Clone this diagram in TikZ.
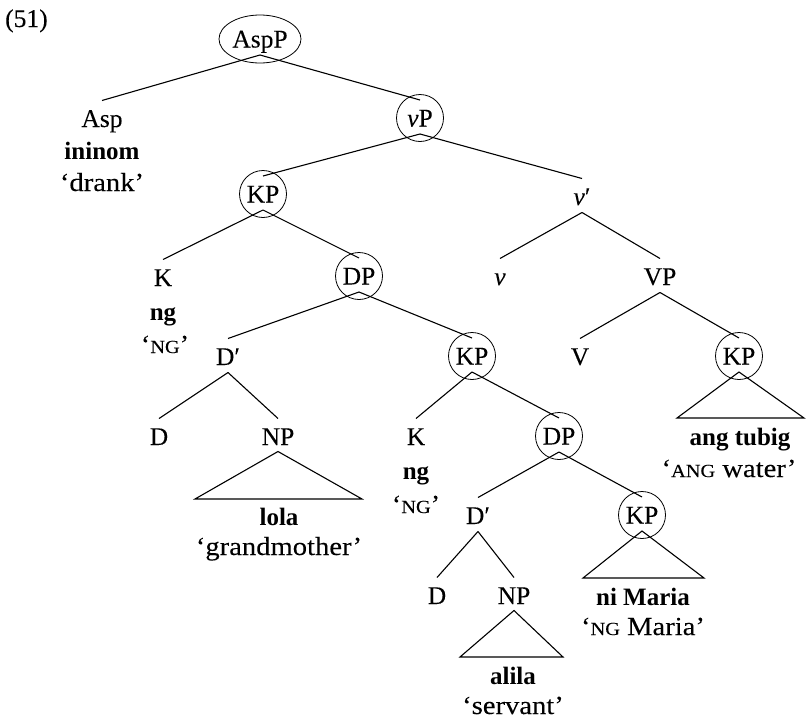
\documentclass[tikz,border=0pt]{standalone}
\usepackage{fontspec}
\setmainfont{Liberation Serif}[UprightFeatures={FakeBold=0.06},ItalicFeatures={FakeBold=0.06}]
% slightly wider face for the quoted glosses
\newfontfamily\glossfam{Liberation Serif}[FakeStretch=1.1,UprightFeatures={FakeBold=0.06}]
\usetikzlibrary{shapes.geometric}
% fake small capitals for the case glosses
\newcommand{\smcap}[1]{{\fontsize{18.5}{20}\selectfont #1}}
\begin{document}
\begin{tikzpicture}[x=1pt,y=-1pt,
  every node/.style={font=\fontsize{25.5}{30}\selectfont, inner sep=0pt},
  cat/.style={text height=17pt, text depth=0pt},
  circ/.style={cat, circle, draw, line width=0.8pt, minimum size=47pt},
  txt/.style={anchor=base, font=\fontsize{25}{30}\selectfont},
  gloss/.style={anchor=base, font=\glossfam\fontsize{26}{30}\selectfont},
  branch/.style={line width=1.1pt},
  tri/.style={line width=1.1pt, line join=miter}
]
\useasboundingbox (0,0) rectangle (806,723);

\node[anchor=base west] (num) at (5,27) {(51)};

% category labels
\node[cat, ellipse, draw, line width=0.8pt, minimum width=82pt, minimum height=48pt] (aspp) at (260,39) {AspP};
\node[cat] (asp) at (102,118.5) {Asp};
\node[circ] (vp) at (420,118) {\textit{v}P};
\node[circ] (kp1) at (263,194) {KP};
\node[cat] (vbar) at (582,196.5) {\textit{v}′};
\node[cat] (k1) at (163,277.5) {K};
\node[circ] (dp1) at (359,276) {DP};
\node[cat] (vsmall) at (500,276.5) {\textit{v}};
\node[cat] (vpbig) at (660,276.5) {VP};
\node[cat] (dbar1) at (228,356.5) {D′};
\node[circ] (kp2) at (472,356) {KP};
\node[cat] (vbig) at (580,356.5) {V};
\node[circ] (kpr) at (739,356) {KP};
\node[cat] (d1) at (159,436.5) {D};
\node[cat] (np1) at (278,436.5) {NP};
\node[cat] (k2) at (416,436.5) {K};
\node[circ] (dp2) at (559,436) {DP};
\node[cat] (dbar2) at (478,515.5) {D′};
\node[circ] (kp3) at (642,515) {KP};
\node[cat] (d2) at (437,595.5) {D};
\node[cat] (np2) at (514,595.5) {NP};

% lexical material and glosses
\node[txt] (ininom) at (102,159) {\textbf{ininom}};
\node[gloss] (drank) at (102,191) {‘drank’};
\node[txt] (ng1) at (163,320) {\textbf{ng}};
\node[gloss] (ngg1) at (165,353) {‘\smcap{NG}’};
\node[txt] (ng2) at (416,479) {\textbf{ng}};
\node[gloss] (ngg2) at (416,513) {‘\smcap{NG}’};
\node[txt] (lola) at (279,525) {\textbf{lola}};
\node[gloss] (grand) at (279,555) {‘grandmother’};
\node[txt] (tubig) at (740,445) {\textbf{ang tubig}};
\node[gloss] (water) at (729,477) {‘\smcap{ANG} water’};
\node[txt] (maria) at (643,605) {\textbf{ni Maria}};
\node[gloss] (ngmaria) at (643,635) {‘\smcap{NG} Maria’};
\node[txt] (alila) at (513,684) {\textbf{alila}};
\node[gloss] (servant) at (513,714) {‘servant’};

% branches: from just under the mother label to just above the daughter label
\foreach \m/\d in {aspp/asp, aspp/vp, vp/kp1, vp/vbar, kp1/k1, kp1/dp1,
                   vbar/vsmall, vbar/vpbig, dp1/dbar1, dp1/kp2, vpbig/vbig,
                   vpbig/kpr, dbar1/d1, dbar1/np1, kp2/k2, kp2/dp2,
                   dp2/dbar2, dp2/kp3, dbar2/d2, dbar2/np2}
  \draw[branch] ([yshift=-16pt]\m.center) -- ([yshift=18pt]\d.center);

% roofs over unanalysed constituents
\draw[tri] ([yshift=-15pt]np1.center) -- (195,499) -- (362,499) -- cycle;
\draw[tri] ([yshift=-16pt]kpr.center) -- (677,418) -- (804,418) -- cycle;
\draw[tri] ([yshift=-16pt]kp3.center) -- (583,578) -- (704,578) -- cycle;
\draw[tri] ([yshift=-15pt]np2.center) -- (460,657) -- (563,657) -- cycle;
\end{tikzpicture}
\end{document}
